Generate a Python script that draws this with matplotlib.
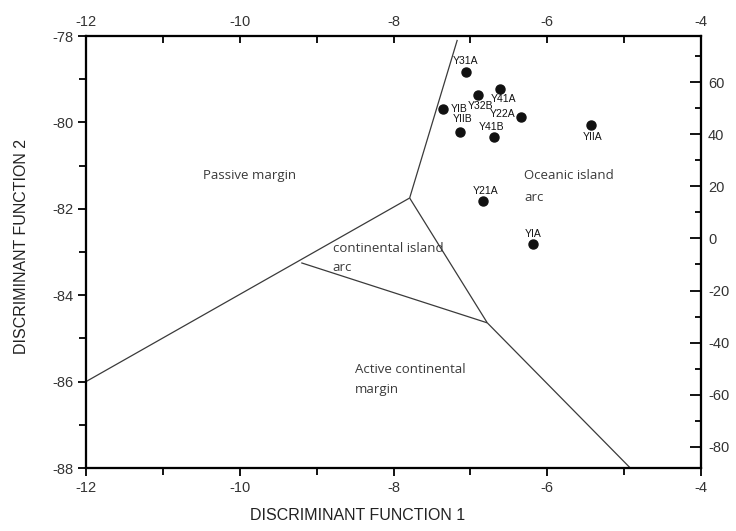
import matplotlib
matplotlib.use("Agg")
import matplotlib.pyplot as plt
from matplotlib.ticker import MultipleLocator

plt.rcParams["axes.unicode_minus"] = False

# Sample scores on the two discriminant functions
sample_names = ["Y31A", "Y41A", "Y32B", "YIB", "Y22A", "YIIB", "Y41B", "YIIA", "Y21A", "YIA"]
df1_scores = [-7.06, -6.61, -6.90, -7.35, -6.34, -7.14, -6.69, -5.43, -6.84, -6.18]
df2_scores = [-78.83, -79.23, -79.37, -79.70, -79.87, -80.22, -80.33, -80.06, -81.81, -82.81]
# label offsets in points (dx, dy) relative to each sample marker
label_dx = [0, 2, 2, 11, -13, 2, -2, 1, 2, 0]
label_dy = [8, -7, -8, 0, 2, 9, 7, -9, 7, 7]

# Tectonic setting field boundaries (DF1, DF2 vertices)
triple_point = (-7.79, -81.75)
upper_end = (-7.17, -78.09)
left_end = (-12.0, -86.0)
lower_vertex = (-6.78, -84.64)
bottom_end = (-4.92, -88.0)
inner_left = (-9.20, -83.25)
boundaries = [
    (upper_end, triple_point),
    (triple_point, left_end),
    (triple_point, lower_vertex),
    (lower_vertex, bottom_end),
    (inner_left, lower_vertex),
]

# Field names and their anchor positions
field_labels = [
    ("Passive margin", -10.48, -81.24),
    ("Oceanic island", -6.30, -81.24),
    ("arc", -6.30, -81.73),
    ("continental island", -8.79, -82.91),
    ("arc", -8.79, -83.37),
    ("Active continental", -8.50, -85.73),
    ("margin", -8.50, -86.19),
]

x_range = (-12, -4)
y_range = (-88, -78)
right_range = (-88.2, 77.8)

tick_font = "Liberation Sans"
tick_color = "#333333"

fig = plt.figure(figsize=(7.36, 5.31), dpi=100)
ax = fig.add_axes([86 / 736, 1 - 468 / 531, (701 - 86) / 736, (468 - 36) / 531])
ax.set_xlim(*x_range)
ax.set_ylim(*y_range)

for (x0, y0), (x1, y1) in boundaries:
    ax.plot([x0, x1], [y0, y1], color="#3a3a3a", lw=0.9, solid_capstyle="butt")

ax.plot(df1_scores, df2_scores, "o", color="#111111", ms=6.5, zorder=5)
for name, x, y, dx, dy in zip(sample_names, df1_scores, df2_scores, label_dx, label_dy):
    ax.annotate(name, (x, y), xytext=(dx, dy), textcoords="offset points",
                ha="center", va="center", fontsize=7.5, family=tick_font, color="#111111")

for text, x, y in field_labels:
    ax.text(x, y, text, ha="left", va="center", fontsize=9.5, family="Open Sans", color="#3a3a3a")

# bottom / left axes
ax.xaxis.set_major_locator(MultipleLocator(2))
ax.xaxis.set_minor_locator(MultipleLocator(1))
ax.yaxis.set_major_locator(MultipleLocator(2))
ax.yaxis.set_minor_locator(MultipleLocator(1))
ax.tick_params(which="major", direction="out", length=6, width=1.3, labelsize=10.5, colors="black",
               labelcolor=tick_color, pad=3)
ax.tick_params(which="minor", direction="out", length=5, width=1.3)
for lab in ax.get_xticklabels() + ax.get_yticklabels():
    lab.set_family(tick_font)
for sp in ax.spines.values():
    sp.set_linewidth(1.5)

# top axis
axt = ax.twiny()
axt.set_xlim(*x_range)
axt.xaxis.set_major_locator(MultipleLocator(2))
axt.xaxis.set_minor_locator(MultipleLocator(1))
axt.tick_params(which="both", direction="in", length=5, width=1.3, labelsize=10.5,
                labelcolor=tick_color, pad=5)
for lab in axt.get_xticklabels():
    lab.set_family(tick_font)

# right axis
axr = ax.twinx()
axr.set_ylim(*right_range)
axr.yaxis.set_major_locator(MultipleLocator(20))
axr.yaxis.set_minor_locator(MultipleLocator(10))
axr.tick_params(which="major", direction="in", length=8, width=1.3, labelsize=10.5,
                labelcolor=tick_color, pad=5)
axr.tick_params(which="minor", direction="in", length=4, width=1.3)
for lab in axr.get_yticklabels():
    lab.set_family(tick_font)
for a in (axt, axr):
    for sp in a.spines.values():
        sp.set_linewidth(1.5)

fig.text(358 / 736, 1 - 516 / 531, "DISCRIMINANT FUNCTION 1", ha="center", va="center",
         fontsize=11.5, family=tick_font, color="#222222")
fig.text(22 / 736, 1 - 246 / 531, "DISCRIMINANT FUNCTION 2", ha="center", va="center",
         rotation=90, fontsize=11.5, family=tick_font, color="#222222")

fig.savefig("out.png", dpi=100)
